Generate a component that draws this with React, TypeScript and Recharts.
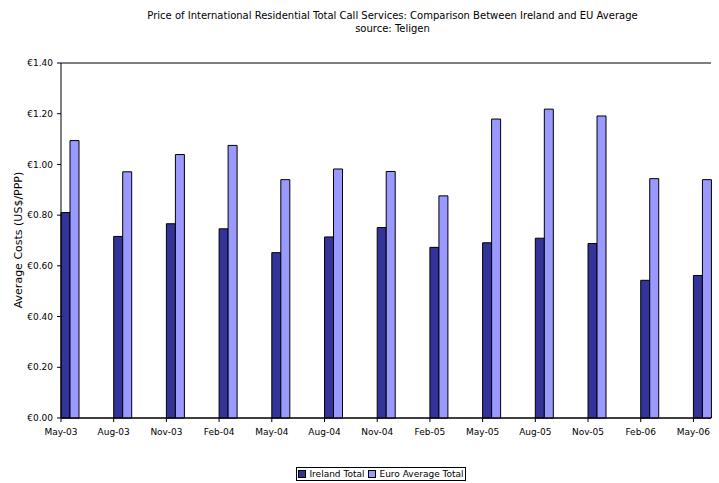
import React from "react";
import { BarChart, Bar, XAxis, YAxis, CartesianGrid } from "recharts";

const categories = ["May-03", "Aug-03", "Nov-03", "Feb-04", "May-04", "Aug-04", "Nov-04", "Feb-05", "May-05", "Aug-05", "Nov-05", "Feb-06", "May-06"];
const irelandTotal = [0.81, 0.716, 0.766, 0.746, 0.652, 0.714, 0.751, 0.673, 0.691, 0.709, 0.688, 0.543, 0.562];
const euroAverageTotal = [1.094, 0.971, 1.039, 1.075, 0.94, 0.982, 0.972, 0.876, 1.179, 1.218, 1.191, 0.944, 0.94];
const yTicks = [0, 0.2, 0.4, 0.6, 0.8, 1.0, 1.2, 1.4];
const MONTHS_PER_STEP = 3;

// monthly slots on a date axis: a value every third month
const data = Array.from({ length: (categories.length - 1) * MONTHS_PER_STEP + 1 }, (_, i) => {
  const k = i % MONTHS_PER_STEP === 0 ? i / MONTHS_PER_STEP : -1;
  return {
    key: i,
    label: k >= 0 ? categories[k] : "",
    ireland: k >= 0 ? irelandTotal[k] : null,
    euro: k >= 0 ? euroAverageTotal[k] : null,
  };
});

const FONT = "'DejaVu Sans', Verdana, sans-serif";

const XTick = (props: any) => {
  const { x, y, payload } = props;
  const row = data[payload.index] || data[payload.value];
  if (!row || !row.label) return null;
  const off = payload.offset ?? 0;
  const tx = x - off;
  return (
    <g>
      <line x1={tx} x2={tx} y1={y - 8} y2={y - 4} stroke="#000" />
      <text x={tx} y={y} dy={9} textAnchor="middle" fontSize={9} fontFamily={FONT} fill="#000">
        {row.label}
      </text>
    </g>
  );
};

export default function App() {
  return (
    <div style={{ position: "absolute", left: 0, top: 0, width: 719, height: 483, background: "#fff", fontFamily: FONT }}>
      <div style={{ position: "absolute", left: 0, width: 785, top: 9, textAlign: "center", fontSize: 10, lineHeight: "13px", color: "#000" }}>
        <div>Price of International Residential Total Call Services: Comparison Between Ireland and EU Average</div>
        <div>source: Teligen</div>
      </div>
      <div
        style={{
          position: "absolute",
          left: 18,
          top: 240,
          transform: "translate(-50%, -50%) rotate(-90deg)",
          whiteSpace: "nowrap",
          fontSize: 11,
          color: "#000",
        }}
      >
        Average Costs (US$/PPP)
      </div>
      <BarChart
        width={719}
        height={483}
        data={data}
        margin={{ top: 63, right: 8, bottom: 35, left: 0 }}
        barCategoryGap={0}
        barGap={0}
      >
        <CartesianGrid vertical={false} stroke="#000" />
        <XAxis
          dataKey="key"
          interval={0}
          tickLine={false}
          tickSize={4}
          tickMargin={4}
          height={30}
          axisLine={{ stroke: "#000" }}
          tick={<XTick />}
        />
        <YAxis
          yAxisId="left"
          domain={[0, 1.4]}
          ticks={yTicks}
          width={61}
          tickSize={4}
          tickMargin={4}
          axisLine={{ stroke: "#000" }}
          tickLine={{ stroke: "#000" }}
          tick={{ fontSize: 9, fontFamily: FONT, fill: "#000" }}
          tickFormatter={(v: number) => "€" + v.toFixed(2)}
        />
        <YAxis
          yAxisId="right"
          orientation="right"
          domain={[0, 1.4]}
          width={0}
          tick={false}
          tickLine={false}
          axisLine={{ stroke: "#999" }}
        />
        <Bar yAxisId="left" dataKey="ireland" name="Ireland Total" fill="#333399" stroke="#000" strokeWidth={1} isAnimationActive={false} />
        <Bar yAxisId="left" dataKey="euro" name="Euro Average Total" fill="#9999FF" stroke="#000" strokeWidth={1} isAnimationActive={false} />
      </BarChart>
      <div
        style={{
          position: "absolute",
          left: 296,
          top: 467,
          width: 170,
          height: 14,
          boxSizing: "border-box",
          border: "1px solid #000",
          display: "flex",
          alignItems: "center",
          justifyContent: "center",
          fontSize: 9,
          color: "#000",
          whiteSpace: "nowrap",
        }}
      >
        <span style={{ display: "inline-block", width: 6, height: 6, background: "#333399", border: "1px solid #000", marginRight: 3 }} />
        <span style={{ marginRight: 4 }}>Ireland Total</span>
        <span style={{ display: "inline-block", width: 6, height: 6, background: "#9999FF", border: "1px solid #000", marginRight: 3 }} />
        <span>Euro Average Total</span>
      </div>
    </div>
  );
}
